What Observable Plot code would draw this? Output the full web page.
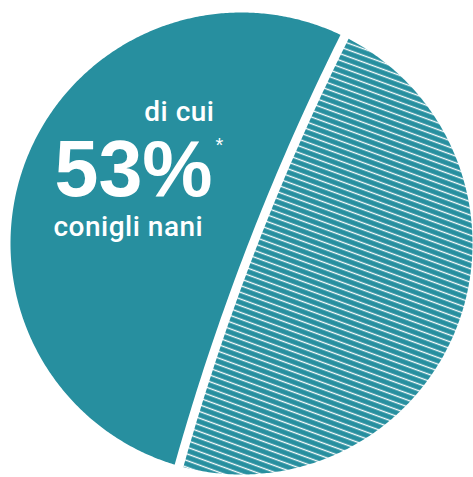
<!DOCTYPE html>
<html>
<head>
<meta charset="utf-8">
<script src="https://cdn.jsdelivr.net/npm/d3@7"></script>
<script src="https://cdn.jsdelivr.net/npm/@observablehq/plot@0.6"></script>
<style>
  html, body { margin: 0; padding: 0; background: #fff; }
  #chart svg { display: block; }
  .lbl-small text { letter-spacing: 0.5px; }
</style>
</head>
<body>
<div id="chart"></div>
<script>
// Data
const categories = ["conigli nani", "altri"];
const shares = [53, 47];
const labelTop = "di cui";
const labelValue = "53%";
const labelBottom = "conigli nani";
const labelNote = "*";

const TEAL = "#278f9f";
const W = 473, H = 477;
const cx = 241, cy = 243, R = 231;

// pie layout: hatched ("altri") starts at ~26.5° clockwise from top
const startDeg = 26.5;
const total = d3.sum(shares);
const aStart = startDeg;
const aEnd = startDeg + shares[1] / total * 360;

const toRad = d => d * Math.PI / 180;
const pt = a => [Math.sin(toRad(a)), Math.cos(toRad(a))];
const P0 = pt(aStart), P2 = pt(aEnd);
// curved divider: quadratic Bezier between the two slice edges, control point at pie centre
const bez = (t) => [(1 - t) * (1 - t) * P0[0] + t * t * P2[0], (1 - t) * (1 - t) * P0[1] + t * t * P2[1]];
const N = 60;
const curve = d3.range(N + 1).map(i => bez(i / N)); // P0 -> P2

function arcPts(a0, a1) {
  const out = [];
  const n = Math.ceil(Math.abs(a1 - a0) / 0.5);
  for (let i = 0; i <= n; i++) out.push(pt(a0 + (a1 - a0) * i / n));
  return out;
}

const slicePts = [];
// hatched slice: arc start->end, then curve back P2->P0
arcPts(aStart, aEnd).concat(curve.slice().reverse()).forEach(([x, y]) => slicePts.push({cat: categories[1], x, y}));
// solid slice: arc end->start+360, then curve P0->P2
arcPts(aEnd, aStart + 360).concat(curve).forEach(([x, y]) => slicePts.push({cat: categories[0], x, y}));

const gapPts = [[P0[0] * 1.06, P0[1] * 1.06], ...curve, [P2[0] * 1.06, P2[1] * 1.06]].map(([x, y]) => ({x, y}));

const px = v => (v - cx) / R;       // pixel -> data (x)
const py = v => (cy - v) / R;       // pixel -> data (y)

const fillFor = {"conigli nani": TEAL, "altri": "url(#hatch)"};
const FONT = "Roboto, 'Liberation Sans', Arial, sans-serif";

const svg = Plot.plot({
  width: W, height: H,
  margin: 0,
  x: {domain: [px(0), px(W)], axis: null},
  y: {domain: [py(H), py(0)], axis: null},
  style: {background: "#fff", overflow: "hidden"},
  marks: [
    ...categories.map(c => Plot.line(slicePts.filter(d => d.cat === c), {
      x: "x", y: "y", fill: fillFor[c], stroke: "none", curve: "linear"
    })),
    Plot.line(gapPts, {x: "x", y: "y", stroke: "#fff", strokeWidth: 9, strokeLinecap: "butt", curve: "linear"}),
    Plot.text([labelTop], {x: px(214), y: py(120), text: d => d, textAnchor: "end", lineAnchor: "bottom",
      fill: "#fff", fontSize: 28, fontWeight: 500, fontFamily: FONT, className: "lbl-small"}),
    Plot.text([labelValue], {x: px(54), y: py(195), text: d => d, textAnchor: "start", lineAnchor: "bottom",
      fill: "#fff", fontSize: 79, fontWeight: "bold", fontFamily: "'Liberation Sans', Arial, sans-serif"}),
    Plot.text([labelNote], {x: px(215), y: py(151), text: d => d, textAnchor: "start", lineAnchor: "bottom",
      fill: "#fff", fontSize: 20, fontFamily: "'Liberation Sans', Arial, sans-serif"}),
    Plot.text([labelBottom], {x: px(53), y: py(235), text: d => d, textAnchor: "start", lineAnchor: "bottom",
      fill: "#fff", fontSize: 28, fontWeight: 500, fontFamily: FONT, className: "lbl-small"})
  ]
});

svg.insertAdjacentHTML("afterbegin",
  `<defs><pattern id="hatch" patternUnits="userSpaceOnUse" width="40" height="6.3" patternTransform="rotate(20)">
     <rect x="0" y="0" width="40" height="6.3" fill="${TEAL}"></rect>
     <line x1="0" y1="3.15" x2="40" y2="3.15" stroke="#fff" stroke-width="1.3"></line>
   </pattern></defs>`);

document.getElementById("chart").appendChild(svg);
</script>
</body>
</html>
